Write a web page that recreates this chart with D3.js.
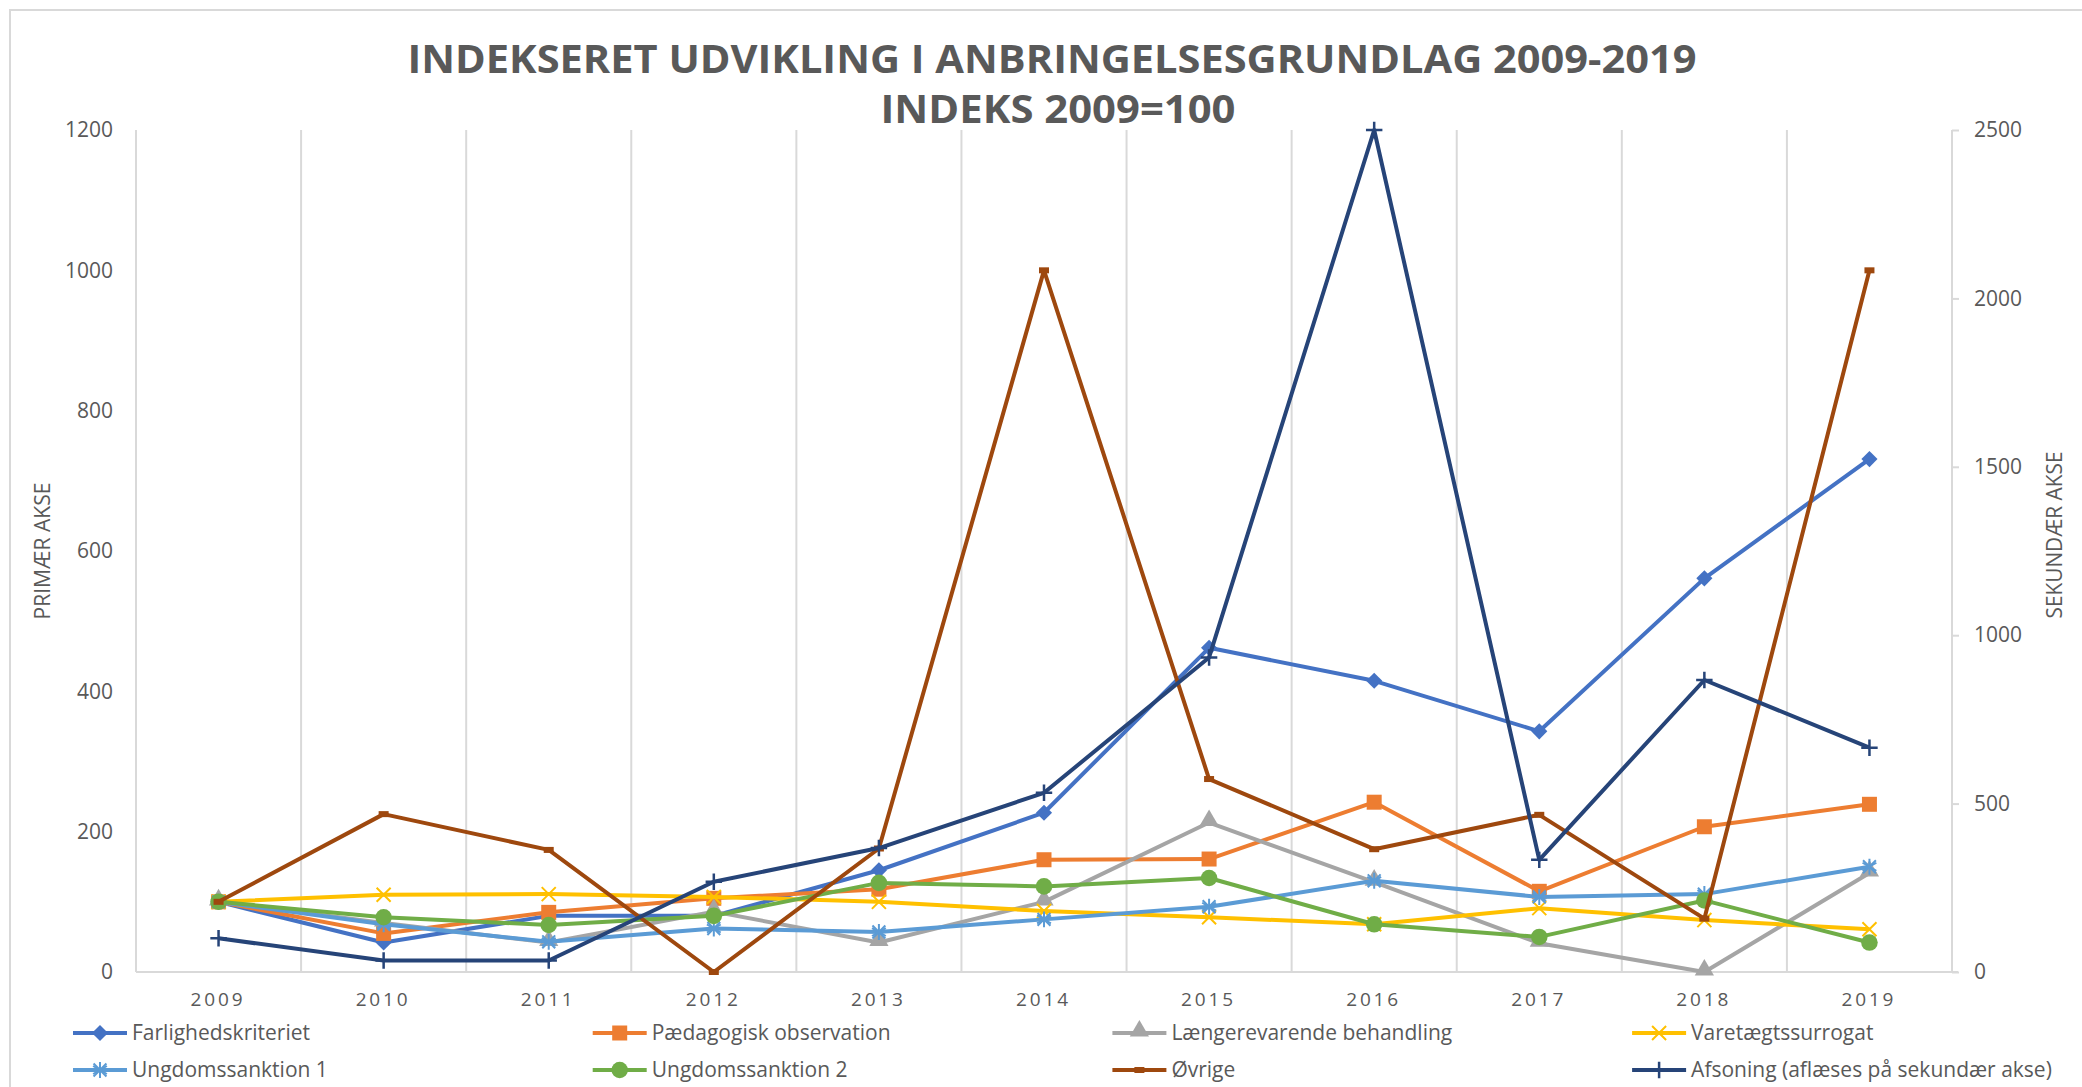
<!DOCTYPE html>
<html>
<head>
<meta charset="utf-8">
<script src="https://cdn.jsdelivr.net/npm/d3@7"></script>
<style>
  body { margin: 0; background: #fff; }
  svg text { fill: #595959; font-family: "Open Sans", sans-serif; }
</style>
</head>
<body>
<svg id="chart" width="2082" height="1087"></svg>
<script>
// data (index 2009 = 100)
var years = ["2009", "2010", "2011", "2012", "2013", "2014", "2015", "2016", "2017", "2018", "2019"];
var farlighedskriteriet = [100, 42, 80, 80, 145, 227, 462, 415, 343, 561, 731];
var paedagogisk = [100, 55, 85, 105, 118, 160, 161, 242, 115, 207, 239];
var laengerevarende = [100, 70, 42, 86, 42, 100, 213, 128, 41, 0, 141];
var varetaegtssurrogat = [100, 110, 111, 107, 100, 87, 78, 68, 91, 74, 61];
var ungdomssanktion1 = [100, 68, 43, 62, 57, 75, 93, 130, 107, 111, 150];
var ungdomssanktion2 = [100, 78, 67, 80, 127, 122, 134, 68, 50, 102, 42];
var oevrige = [100, 225, 174, 0, 176, 1000, 275, 175, 224, 76, 1000];
var afsoning = [100, 34, 34, 268, 368, 532, 934, 2500, 333, 867, 666];

var primaryTicks = [0, 200, 400, 600, 800, 1000, 1200];
var secondaryTicks = [0, 500, 1000, 1500, 2000, 2500];

var titleLines = ["INDEKSERET UDVIKLING I ANBRINGELSESGRUNDLAG 2009-2019", "INDEKS 2009=100"];

var series = [
  { name: "Farlighedskriteriet", values: farlighedskriteriet, color: "#4472C4", marker: "diamond", axis: "primary" },
  { name: "Pædagogisk observation", values: paedagogisk, color: "#ED7D31", marker: "square", axis: "primary" },
  { name: "Længerevarende behandling", values: laengerevarende, color: "#A5A5A5", marker: "triangle", axis: "primary" },
  { name: "Varetægtssurrogat", values: varetaegtssurrogat, color: "#FFC000", marker: "x", axis: "primary" },
  { name: "Ungdomssanktion 1", values: ungdomssanktion1, color: "#5B9BD5", marker: "star", axis: "primary" },
  { name: "Ungdomssanktion 2", values: ungdomssanktion2, color: "#70AD47", marker: "circle", axis: "primary" },
  { name: "Øvrige", values: oevrige, color: "#9E480E", marker: "dash", axis: "primary" },
  { name: "Afsoning (aflæses på sekundær akse)", values: afsoning, color: "#264478", marker: "plus", axis: "secondary" }
];

var svg = d3.select("#chart");
var plot = { left: 136, right: 1952, top: 130, bottom: 972 };

var x = d3.scaleBand().domain(years).range([plot.left, plot.right]);
var y = d3.scaleLinear().domain([0, 1200]).range([plot.bottom, plot.top]);
var y2 = d3.scaleLinear().domain([0, 2500]).range([plot.bottom, plot.top]);

// outer chart border
svg.append("rect")
  .attr("x", 10).attr("y", 10)
  .attr("width", 2100).attr("height", 1100)
  .attr("fill", "none").attr("stroke", "#d9d9d9").attr("stroke-width", 2);

// title
svg.append("text")
  .attr("x", 1052).attr("y", 73)
  .attr("text-anchor", "middle")
  .attr("font-size", 40).attr("font-weight", 700)
  .attr("textLength", 1289).attr("lengthAdjust", "spacingAndGlyphs")
  .text(titleLines[0]);
svg.append("text")
  .attr("x", 1058).attr("y", 123)
  .attr("text-anchor", "middle")
  .attr("font-size", 40).attr("font-weight", 700)
  .attr("textLength", 355).attr("lengthAdjust", "spacingAndGlyphs")
  .text(titleLines[1]);

// vertical gridlines between categories (Excel style)
var gridX = years.map(function (d) { return x(d); }).concat([plot.right]);
svg.append("g").selectAll("line").data(gridX).join("line")
  .attr("x1", function (d) { return d; }).attr("x2", function (d) { return d; })
  .attr("y1", plot.top).attr("y2", plot.bottom)
  .attr("stroke", "#d9d9d9").attr("stroke-width", 2);

// x axis
var xAxis = svg.append("g")
  .attr("transform", "translate(0," + plot.bottom + ")")
  .call(d3.axisBottom(x).tickSize(0).tickPadding(0));
xAxis.select(".domain").remove();
xAxis.append("line")
  .attr("x1", plot.left).attr("x2", plot.right + 6)
  .attr("stroke", "#d9d9d9").attr("stroke-width", 2);
xAxis.selectAll(".tick text")
  .attr("x", -2)
  .attr("y", 34).attr("dy", 0)
  .attr("font-size", 19)
  .attr("font-family", "Open Sans, sans-serif")
  .attr("fill", "#595959")
  .attr("textLength", 52).attr("lengthAdjust", "spacing");

// primary axis
var yAxis = svg.append("g")
  .attr("transform", "translate(" + (plot.left - 23) + ",0)")
  .call(d3.axisLeft(y).tickValues(primaryTicks).tickFormat(d3.format("d")).tickSize(0).tickPadding(0));
yAxis.select(".domain").remove();
yAxis.selectAll(".tick text")
  .attr("font-size", 21)
  .attr("font-family", "Open Sans, sans-serif")
  .attr("fill", "#595959");

// secondary axis
var y2Axis = svg.append("g")
  .attr("transform", "translate(" + plot.right + ",0)")
  .call(d3.axisRight(y2).tickValues(secondaryTicks).tickFormat(d3.format("d")).tickSize(7).tickPadding(15));
y2Axis.select(".domain").remove();
y2Axis.selectAll(".tick line").attr("stroke", "#d9d9d9").attr("stroke-width", 2);
y2Axis.selectAll(".tick text")
  .attr("font-size", 21)
  .attr("font-family", "Open Sans, sans-serif")
  .attr("fill", "#595959");

// axis titles
svg.append("text")
  .attr("transform", "translate(50,551) rotate(-90)")
  .attr("text-anchor", "middle")
  .attr("font-size", 21)
  .attr("textLength", 137).attr("lengthAdjust", "spacingAndGlyphs")
  .text("PRIMÆR AKSE");
svg.append("text")
  .attr("transform", "translate(2062,535) rotate(-90)")
  .attr("text-anchor", "middle")
  .attr("font-size", 21)
  .attr("textLength", 167).attr("lengthAdjust", "spacingAndGlyphs")
  .text("SEKUNDÆR AKSE");

function drawMarker(g, type, color) {
  if (type === "diamond") {
    g.append("path").attr("d", d3.symbol(d3.symbolSquare, 130)())
      .attr("transform", "rotate(45)").attr("fill", color);
  } else if (type === "square") {
    g.append("path").attr("d", d3.symbol(d3.symbolSquare, 225)()).attr("fill", color);
  } else if (type === "triangle") {
    g.append("path").attr("d", d3.symbol(d3.symbolTriangle, 160)())
      .attr("transform", "translate(0,-2)").attr("fill", color);
  } else if (type === "circle") {
    g.append("path").attr("d", d3.symbol(d3.symbolCircle, 215)()).attr("fill", color);
  } else if (type === "x") {
    g.append("path").attr("d", d3.symbol(d3.symbolX, 130)())
      .attr("fill", "none").attr("stroke", color).attr("stroke-width", 2);
  } else if (type === "star") {
    g.append("path").attr("d", d3.symbol(d3.symbolAsterisk, 180)())
      .attr("fill", "none").attr("stroke", color).attr("stroke-width", 2);
    g.append("path").attr("d", d3.symbol(d3.symbolX, 110)())
      .attr("fill", "none").attr("stroke", color).attr("stroke-width", 2);
  } else if (type === "plus") {
    g.append("path").attr("d", d3.symbol(d3.symbolPlus, 90)())
      .attr("fill", "none").attr("stroke", color).attr("stroke-width", 2.5);
  } else if (type === "dash") {
    g.append("rect").attr("x", -5).attr("y", -3).attr("width", 10).attr("height", 6)
      .attr("fill", color);
  }
}

// lines and markers
series.forEach(function (s) {
  var scale = s.axis === "secondary" ? y2 : y;
  var cx = function (d, i) { return x(years[i]) + x.bandwidth() / 2; };
  var line = d3.line()
    .x(cx)
    .y(function (d) { return scale(d); });

  var g = svg.append("g");
  g.append("path")
    .datum(s.values)
    .attr("d", line)
    .attr("fill", "none")
    .attr("stroke", s.color)
    .attr("stroke-width", 4)
    .attr("stroke-linejoin", "round");

  g.selectAll("g.m").data(s.values).join("g")
    .attr("class", "m")
    .attr("transform", function (d, i) { return "translate(" + cx(d, i) + "," + scale(d) + ")"; })
    .each(function () { drawMarker(d3.select(this), s.marker, s.color); });
});

// legend, 4 columns x 2 rows
var legend = svg.append("g");
series.forEach(function (s, i) {
  var col = i % 4, row = Math.floor(i / 4);
  var lg = legend.append("g")
    .attr("transform", "translate(" + (73 + col * 519.7) + "," + (1033 + row * 37) + ")");
  lg.append("line").attr("x1", 0).attr("x2", 54)
    .attr("stroke", s.color).attr("stroke-width", 4);
  drawMarker(lg.append("g").attr("transform", "translate(27,0)"), s.marker, s.color);
  lg.append("text")
    .attr("x", 59).attr("dy", "0.35em")
    .attr("font-size", 21)
    .text(s.name);
});
</script>
</body>
</html>
